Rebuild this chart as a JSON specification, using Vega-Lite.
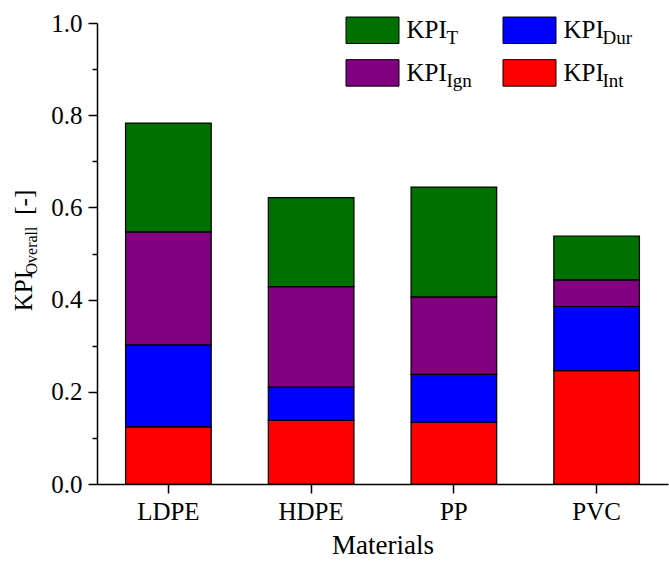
{
  "$schema": "https://vega.github.io/schema/vega-lite/v6.json",
  "width": 571,
  "height": 461,
  "autosize": {"type": "none"},
  "padding": {"left": 97, "top": 23, "right": 1, "bottom": 84},
  "background": "white",
  "title": {
    "text": "Overall",
    "orient": "left",
    "anchor": "middle",
    "font": "Liberation Serif",
    "fontSize": 16,
    "fontWeight": "normal",
    "color": "black",
    "baseline": "alphabetic",
    "offset": 0,
    "dx": 3,
    "dy": 41
  },
  "data": {
    "values": [
      {"material": "LDPE", "component": "Int", "stack": 1, "value": 0.124},
      {"material": "LDPE", "component": "Dur", "stack": 2, "value": 0.178},
      {"material": "LDPE", "component": "Ign", "stack": 3, "value": 0.245},
      {"material": "LDPE", "component": "T", "stack": 4, "value": 0.236},
      {"material": "HDPE", "component": "Int", "stack": 1, "value": 0.138},
      {"material": "HDPE", "component": "Dur", "stack": 2, "value": 0.072},
      {"material": "HDPE", "component": "Ign", "stack": 3, "value": 0.218},
      {"material": "HDPE", "component": "T", "stack": 4, "value": 0.193},
      {"material": "PP", "component": "Int", "stack": 1, "value": 0.134},
      {"material": "PP", "component": "Dur", "stack": 2, "value": 0.104},
      {"material": "PP", "component": "Ign", "stack": 3, "value": 0.168},
      {"material": "PP", "component": "T", "stack": 4, "value": 0.238},
      {"material": "PVC", "component": "Int", "stack": 1, "value": 0.246},
      {"material": "PVC", "component": "Dur", "stack": 2, "value": 0.139},
      {"material": "PVC", "component": "Ign", "stack": 3, "value": 0.058},
      {"material": "PVC", "component": "T", "stack": 4, "value": 0.095}
    ]
  },
  "mark": {"type": "bar", "stroke": "black", "strokeWidth": 1.2},
  "encoding": {
    "x": {
      "field": "material",
      "type": "nominal",
      "sort": ["LDPE", "HDPE", "PP", "PVC"],
      "scale": {"paddingInner": 0.4, "paddingOuter": 0.2},
      "axis": {
        "title": "Materials",
        "titleFont": "Liberation Serif",
        "titleFontSize": 27,
        "titleFontWeight": "normal",
        "titleColor": "black",
        "titleBaseline": "alphabetic",
        "titleY": 69,
        "labelFont": "Liberation Serif",
        "labelFontSize": 25,
        "labelColor": "black",
        "labelAngle": 0,
        "labelPadding": 6.5,
        "tickSize": 9,
        "tickWidth": 1.5,
        "tickColor": "black",
        "domainColor": "black",
        "domainWidth": 1.5,
        "grid": false
      }
    },
    "y": {
      "field": "value",
      "type": "quantitative",
      "stack": "zero",
      "scale": {"domain": [0, 1], "nice": false, "zero": true},
      "axis": {
        "title": "KPI\u00a0\u00a0\u00a0\u00a0\u00a0\u00a0\u00a0\u00a0\u00a0[-]",
        "titleFont": "Liberation Serif",
        "titleFontSize": 25,
        "titleFontWeight": "normal",
        "titleColor": "black",
        "titleAngle": -90,
        "titleAlign": "center",
        "titleBaseline": "alphabetic",
        "titleX": -65.3,
        "titleY": 227,
        "values": [0, 0.1, 0.2, 0.3, 0.4, 0.5, 0.6, 0.7, 0.8, 0.9, 1.0],
        "labelExpr": "round(datum.value * 10) % 2 == 0 ? format(datum.value, '.1f') : ''",
        "labelFont": "Liberation Serif",
        "labelFontSize": 25,
        "labelColor": "black",
        "labelPadding": 6,
        "tickSize": {"condition": {"test": "round(datum.value * 10) % 2 == 0", "value": 9}, "value": 5},
        "tickWidth": 1.5,
        "tickColor": "black",
        "domainColor": "black",
        "domainWidth": 1.5,
        "grid": false
      }
    },
    "color": {
      "field": "component",
      "type": "nominal",
      "scale": {
        "domain": ["T", "Dur", "Ign", "Int"],
        "range": ["#007000", "#0000ff", "#800080", "#ff0000"]
      },
      "legend": {
        "orient": "none",
        "direction": "horizontal",
        "legendX": 248.5,
        "legendY": -20.1,
        "title": null,
        "padding": 0,
        "columns": 2,
        "columnPadding": 53,
        "rowPadding": 0,
        "symbolType": "M-1,-0.5H1V0.5H-1Z",
        "symbolSize": 2809,
        "symbolStrokeColor": "black",
        "symbolStrokeWidth": 1,
        "symbolOpacity": 1,
        "labelExpr": "'KPI'",
        "labelFont": "Liberation Serif",
        "labelFontSize": 25,
        "labelColor": "black",
        "labelOffset": 7
      }
    },
    "opacity": {
      "field": "stack",
      "type": "nominal",
      "scale": {"type": "point", "domain": [4, 2, 3, 1], "range": [1, 1]},
      "legend": {
        "orient": "none",
        "direction": "horizontal",
        "legendX": 288.5,
        "legendY": -12.1,
        "title": null,
        "padding": 0,
        "columns": 2,
        "columnPadding": 67,
        "rowPadding": 0,
        "symbolType": "M-1,-0.5H1V0.5H-1Z",
        "symbolSize": 2809,
        "symbolStrokeWidth": 1,
        "symbolFillColor": "transparent",
        "symbolStrokeColor": "transparent",
        "symbolOpacity": 0,
        "labelExpr": "datum.value == 4 ? 'T' : datum.value == 2 ? 'Dur' : datum.value == 3 ? 'Ign' : 'Int'",
        "labelFont": "Liberation Serif",
        "labelFontSize": 19,
        "labelColor": "black",
        "labelOffset": 7
      }
    },
    "order": {"field": "stack", "type": "quantitative", "sort": "ascending"}
  },
  "config": {
    "view": {"stroke": null},
    "font": "Liberation Serif"
  }
}
